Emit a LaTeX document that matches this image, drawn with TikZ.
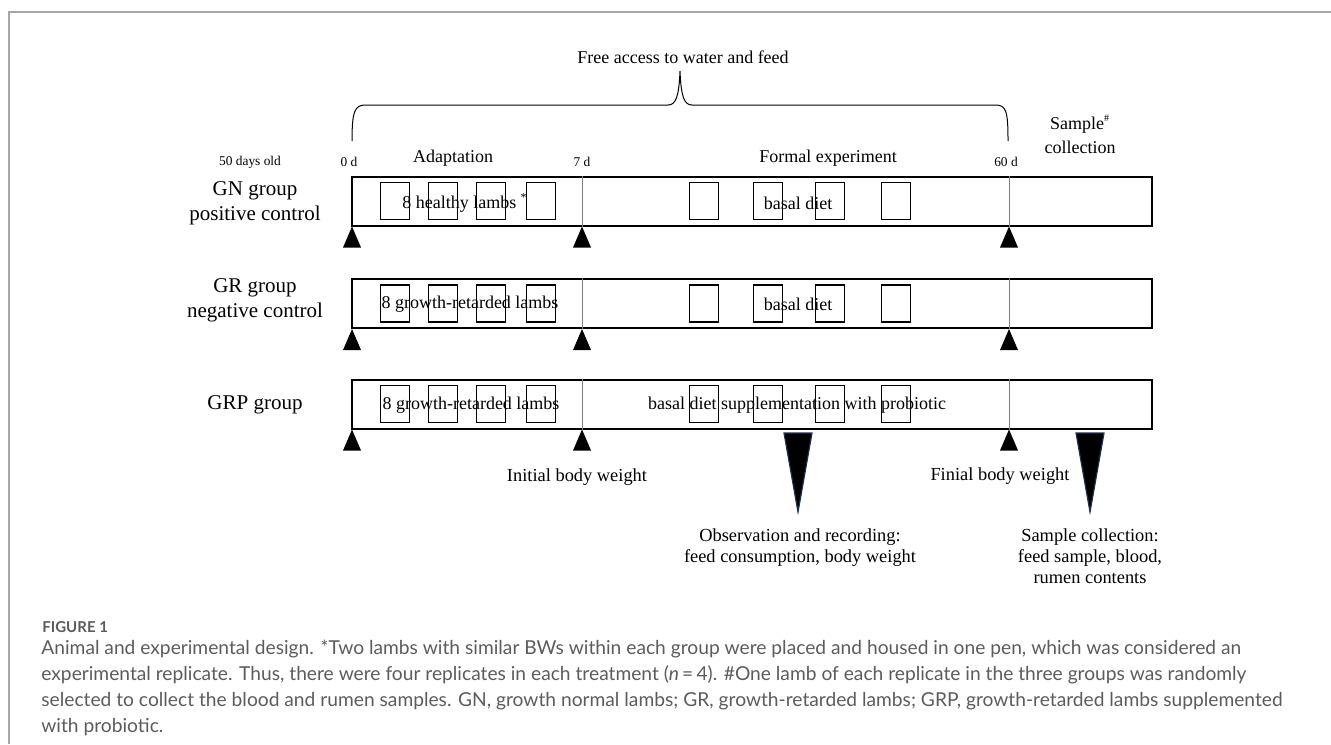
\documentclass[tikz,border=0pt]{standalone}
\usepackage{fontspec}
\setmainfont{Liberation Serif}
\newfontfamily\capfont{Lato}
\usetikzlibrary{positioning}
\usetikzlibrary{calc}

\definecolor{framegray}{HTML}{A6A6A6}
\definecolor{capgray}{HTML}{5C5C5C}
\definecolor{tipblue}{HTML}{1F3050}

\tikzset{
    rowbox/.style={draw,line width=1pt,minimum width=400pt,minimum height=24.5pt,inner sep=0pt},
    pen/.style={draw,line width=0.9pt,minimum width=14.5pt,minimum height=18.5pt,inner sep=0pt},
    divider/.style={draw=gray,line width=0.5pt},
    grouplabel/.style={font=\fontsize{10.5}{12.5}\selectfont,align=center},
    daylabel/.style={font=\fontsize{6.7}{8}\selectfont,inner sep=0pt},
    phaselabel/.style={font=\fontsize{9}{11}\selectfont,inner sep=0pt},
    intext/.style={font=\fontsize{9}{10}\selectfont,inner sep=0pt},
    note/.style={font=\fontsize{9.2}{10.5}\selectfont,align=center,inner sep=0pt},
}

\begin{document}
\begin{tikzpicture}[x=0.5pt,y=-0.5pt]
    \useasboundingbox (0,0) rectangle (1331,744);

    % Frame of the figure panel
    \draw[framegray,line width=0.7pt] (9,744) -- (9,12) -- (1331,12);

    % Time points:
    \coordinate (d0) at (352,0);
    \coordinate (d7) at (582,0);
    \coordinate (d60) at (1009,0);

    % Brace over the whole period
    \node[note,font=\fontsize{9}{10.5}\selectfont] (free) at (683,57) {Free access to water and feed};
    \draw[line width=0.5pt] (d0 |- 0,141) .. controls (352,110) and (355,105) .. (366,105)
        -- (668,105) .. controls (676,105) and (679,96) .. (680,71)
        .. controls (681,96) and (684,105) .. (692,105)
        -- (995,105) .. controls (1006,105) and (1008,110) .. (1008,141);

    % Labels above the first row
    \node[daylabel] (age) at (250,162) {50 days old};
    \node[daylabel] (l0) at (349,162) {0 d};
    \node[daylabel] (l7) at (582,162) {7 d};
    \node[daylabel] (l60) at (1006,162) {60 d};
    \node[phaselabel] (adapt) at (453,158) {Adaptation};
    \node[phaselabel] (formal) at (828,158) {Formal experiment};
    \node[phaselabel,align=center] (sample) at (1080,134) {Sample\textsuperscript{\fontsize{5}{5}\selectfont\#}\\[1pt]collection};

    % Rows of the three groups
    \node[rowbox] (gn) at (752,201) {};
    \node[rowbox] (gr) at (752,303.5) {};
    \node[rowbox] (grp) at (752,404) {};

    \node[grouplabel] (gnlab) at (255,203) {GN group\\positive control};
    \node[grouplabel] (grlab) at (255,300) {GR group\\negative control};
    \node[grouplabel] (grplab) at (255,405) {GRP group};

    \foreach \r in {gn,gr,grp} {
        % pens of two lambs
        \foreach \x [count=\i] in {395,443,491,541,704,768,830,896}
            \node[pen] (\r-p\i) at (\x,0 |- \r) {};
        % phase borders and weighing marks
        \draw[divider] (d7 |- \r.north) -- (d7 |- \r.south);
        \draw[divider] (d60 |- \r.north) -- (d60 |- \r.south);
        \foreach \d in {d0,d7,d60}
            \fill (\d |- \r.south) -- ++(-9,21) -- ++(18,0) -- cycle;
    }

    \node[intext] (gnlambs) at (465,203) {8 healthy lambs \textsuperscript{*}};
    \node[intext] (grlambs) at (470,304) {8 growth-retarded lambs};
    \node[intext] (grplambs) at (471,405) {8 growth-retarded lambs};
    \node[intext] (gndiet) at (798,203) {basal diet};
    \node[intext] (grdiet) at (798,304) {basal diet};
    \node[intext] (grpdiet) at (797,405) {basal diet supplementation with probiotic};

    % Big markers for recording and sampling
    \coordinate (obs) at (798,433);
    \coordinate (col) at (1090,433);
    \foreach \m in {obs,col}
        \filldraw[fill=black,draw=tipblue,line width=0.6pt] ($(\m)+(-14,0)$) -- ($(\m)+(14,0)$) -- ($(\m)+(0,79)$) -- cycle;

    \node[note] (initw) at (577,477) {Initial body weight};
    \node[note] (finw) at (1000,476) {Finial body weight};
    \node[note,anchor=north] (obslab) at (800,528) {Observation and recording:\\feed consumption, body weight};
    \node[note,anchor=north] (collab) at (1090,528) {Sample collection:\\feed sample, blood,\\rumen contents};

    % Caption
    \node[font=\capfont\bfseries\fontsize{7.5}{8}\selectfont,text=capgray,anchor=west,inner sep=0pt] (fig) at (42,627) {FIGURE 1};
    \node[font=\capfont\fontsize{9.6}{13}\selectfont,text=capgray,align=left,anchor=north west,inner sep=0pt] (caption) at (41,640)
        {Animal and experimental design. *Two lambs with similar BWs within each group were placed and housed in one pen, which was considered an\\
        experimental replicate. Thus, there were four replicates in each treatment (\textit{n}\,=\,4). \#One lamb of each replicate in the three groups was randomly\\
        selected to collect the blood and rumen samples. GN, growth normal lambs; GR, growth-retarded lambs; GRP, growth-retarded lambs supplemented\\
        with probiotic.};
\end{tikzpicture}
\end{document}
